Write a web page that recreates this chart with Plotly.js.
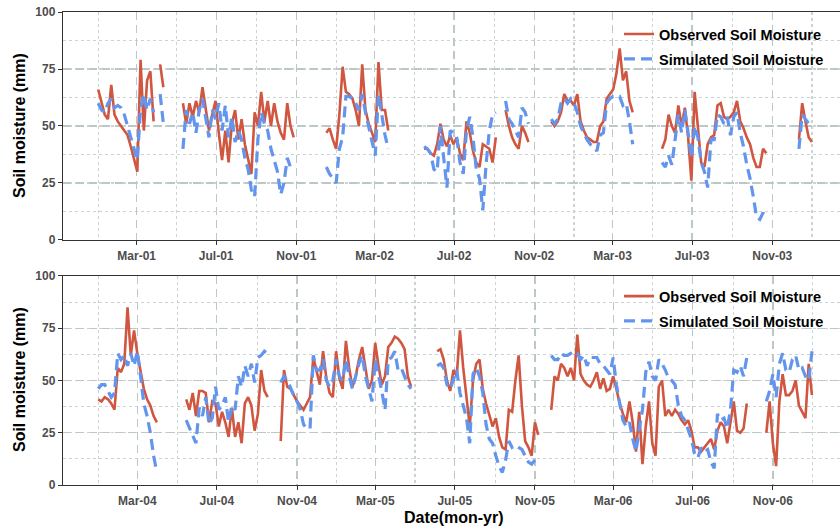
<!DOCTYPE html>
<html><head><meta charset="utf-8">
<script src="https://cdn.plot.ly/plotly-3.0.1.min.js"></script>
<style>html,body{margin:0;padding:0;background:#fff;overflow:hidden}#chart{width:840px;height:529px}</style>
</head><body><div id="chart"></div>
<script>
// Sampling: one reading every 5 days, starting 1 Jan of the panel's first year
const stepDays = 5;
const start1 = '2001-01-01';
const start2 = '2004-01-01';

const observed1 = [66,60,55,53,68,55,52,50,48,46,41,35,30,79,48,70,74,52,null,77,67,
null,null,null,null,null,
60,51,60,54,61,56,67,58,48,55,61,47,35,48,34,51,57,44,53,42,36,29,56,50,65,52,61,50,60,52,47,44,60,50,45,
null,null,null,null,null,null,null,null,null,
47,49,44,40,55,76,65,64,62,57,50,77,57,51,47,43,78,57,57,48,
null,null,null,null,null,null,null,null,null,null,
40,40,38,37,42,51,44,41,46,42,45,38,35,52,47,39,34,32,42,41,40,34,45,
null,null,
57,50,45,42,40,50,47,43,
null,null,null,null,null,null,
52,50,52,56,64,61,61,59,64,52,48,45,44,43,43,50,52,62,64,66,73,84,70,74,61,56,
null,null,null,null,null,null,null,null,
40,44,55,50,47,59,50,58,45,26,65,48,34,32,42,45,46,59,60,54,53,54,56,61,52,49,45,42,36,32,32,40,38,
null,null,null,null,null,null,null,null,null,
44,60,52,45,43];

const simulated1 = [60,57,56,60,62,58,59,58,55,50,46,41,35,58,64,57,62,56,null,64,51,
null,null,null,null,null,
40,57,51,56,47,57,62,54,45,57,53,60,48,59,45,54,43,48,44,36,31,22,19,44,56,51,48,40,35,30,20,25,36,32,null,
null,null,null,null,null,null,null,null,null,
32,29,27,25,40,45,63,63,62,60,57,64,56,50,44,37,64,55,46,40,
null,null,null,null,null,null,null,null,null,null,
41,40,38,31,30,50,36,23,48,47,45,34,29,48,54,45,31,27,13,33,48,55,56,
null,null,
61,53,51,48,45,58,56,51,
null,null,null,null,null,null,
53,51,53,60,62,60,62,60,56,50,47,44,42,41,39,46,47,60,62,63,63,63,59,60,52,42,
null,null,null,null,null,null,null,null,
34,32,37,33,44,55,47,57,47,36,50,45,34,30,23,44,44,55,54,51,54,46,54,56,47,41,33,27,19,10,9,12,9,
null,null,null,null,null,null,null,null,null,
40,55,53,51,50];

const observed2 = [41,40,42,41,39,36,56,54,58,85,62,74,63,54,46,41,38,33,30,
null,null,null,null,null,null,null,null,
41,36,44,33,45,45,44,30,40,39,28,35,30,23,37,23,30,20,39,42,38,26,34,55,45,42,
null,null,null,
21,55,47,46,43,40,38,36,39,42,61,55,48,64,51,44,42,64,51,46,69,56,47,52,60,66,56,46,50,68,57,48,52,66,68,71,70,68,65,52,47,
null,null,null,null,null,null,null,
64,65,60,50,45,55,52,74,56,41,28,50,58,60,46,39,33,28,32,23,18,17,36,35,50,62,38,21,18,14,30,24,
null,null,null,
36,52,50,58,56,52,56,50,72,53,50,48,47,50,54,46,51,45,46,52,46,39,34,30,40,30,16,35,10,28,40,20,14,47,50,33,36,33,36,34,31,29,31,26,18,18,16,18,20,22,17,26,30,28,20,29,40,26,25,27,39,
null,null,null,null,null,
25,40,20,9,40,53,43,43,45,50,38,35,32,58,43];

const simulated2 = [46,48,48,45,42,44,63,60,62,57,63,57,64,52,39,33,25,14,6,
null,null,null,null,null,null,null,null,
31,27,24,20,37,33,42,29,32,47,36,38,42,30,38,36,52,47,57,52,58,49,61,62,64,63,
null,null,null,
49,52,50,46,43,40,36,29,27,27,62,55,55,60,50,47,50,60,52,50,60,52,46,52,58,62,52,46,40,60,53,45,36,60,61,64,55,56,52,48,46,
null,null,null,null,null,null,null,
57,58,56,48,46,50,55,44,38,32,20,53,56,52,44,29,22,20,14,9,6,12,21,18,19,18,17,14,11,10,12,null,
null,null,null,
62,60,60,63,62,62,63,64,63,60,62,57,61,61,61,58,57,55,53,61,48,39,31,28,30,22,16,27,36,54,59,52,50,60,58,55,51,50,48,38,33,31,27,22,15,13,18,16,17,11,8,34,31,32,27,36,55,54,57,52,61,
null,null,null,null,null,
40,45,53,42,58,63,55,54,60,62,55,56,52,50,64];

const seriesNames = ['Observed Soil Moisture', 'Simulated Soil Moisture'];
const yTicks = [0, 25, 50, 75, 100];

function buildDates(start, n) {
  const t0 = Date.parse(start + 'T00:00:00Z');
  const out = [];
  for (let i = 0; i < n; i++) out.push(new Date(t0 + i * stepDays * 86400000).toISOString().slice(0, 10));
  return out;
}
const dates1 = buildDates(start1, observed1.length);
const dates2 = buildDates(start2, observed2.length);

const RED = '#D0563F', BLUE = '#6495ED';
const FAM = 'Liberation Sans, Arial, Helvetica, sans-serif';

function obsTrace(x, y, xa, ya, lg, grp) {
  return {x, y, xaxis: xa, yaxis: ya, type: 'scatter', mode: 'lines', name: seriesNames[0],
    line: {color: RED, width: 2.6}, connectgaps: false, legend: lg, legendgroup: grp, hoverinfo: 'skip'};
}
function simTrace(x, y, xa, ya, lg, grp) {
  return {x, y, xaxis: xa, yaxis: ya, type: 'scatter', mode: 'lines', name: seriesNames[1],
    line: {color: BLUE, width: 3.2, dash: '11px,6px'}, connectgaps: false, legend: lg, legendgroup: grp, hoverinfo: 'skip'};
}

const data = [
  obsTrace(dates1, observed1, 'x', 'y', 'legend', 'o1'),
  simTrace(dates1, simulated1, 'x', 'y', 'legend', 's1'),
  obsTrace(dates2, observed2, 'x2', 'y2', 'legend2', 'o2'),
  simTrace(dates2, simulated2, 'x2', 'y2', 'legend2', 's2')
];

const tickFont = {family: FAM, size: 12, color: '#4d4d4d', weight: 'bold'};
const MAJ = '#bcc8c8', MIN = '#cbd4d4';
function xAxis(range, tick0, minor0, anchor) {
  return {type: 'date', range, tick0, dtick: 'M4', tickformat: '%b-%y', anchor,
    showline: true, linecolor: '#333', linewidth: 1.2, mirror: true,
    ticks: 'outside', ticklen: 4, tickcolor: '#333', tickwidth: 1,
    showgrid: true, gridcolor: MAJ, griddash: '8px,5px', gridwidth: 1.3,
    minor: {dtick: 'M2', tick0: minor0, showgrid: true, gridcolor: MIN, griddash: 'dot', gridwidth: 1.1, ticklen: 0},
    zeroline: false, tickfont: tickFont, fixedrange: true};
}
function yAxis(domain, anchor) {
  return {range: [0, 100], tickvals: yTicks, domain, anchor,
    showline: true, linecolor: '#333', linewidth: 1.2,
    ticks: 'outside', ticklen: 4, tickcolor: '#333',
    showgrid: true, gridcolor: MAJ, griddash: '8px,5px', gridwidth: 1.3,
    minor: {dtick: 12.5, showgrid: true, gridcolor: MIN, griddash: 'dot', gridwidth: 1.1, ticklen: 0},
    zeroline: false, tickfont: tickFont, fixedrange: true};
}
const legFont = {family: FAM, size: 14.5, color: '#000', weight: 'bold'};
function legend(y) {
  return {x: 0.7156, xanchor: 'left', y, yanchor: 'top', bgcolor: 'rgba(0,0,0,0)',
    font: legFont, traceorder: 'grouped', tracegroupgap: 3, itemwidth: 30};
}
const titleFont = {family: FAM, size: 16, color: '#000', weight: 'bold'};

const layout = {
  width: 840, height: 529,
  margin: {l: 63, r: 0, t: 12, b: 44},
  paper_bgcolor: '#fff', plot_bgcolor: '#fff',
  showlegend: true,
  xaxis: xAxis(['2000-11-08', '2004-02-13'], '2001-03-01', '2001-01-01', 'y'),
  yaxis: yAxis([0.518, 1], 'x'),
  xaxis2: xAxis(['2003-11-08', '2007-02-12'], '2004-03-01', '2004-01-01', 'y2'),
  yaxis2: yAxis([0, 0.4419], 'x2'),
  legend: legend(0.987),
  legend2: legend(0.433),
  annotations: [
    {xref: 'paper', yref: 'paper', x: -0.0553, y: 0.759, text: 'Soil moisture (mm)', textangle: -90,
     showarrow: false, xanchor: 'center', yanchor: 'middle', font: titleFont},
    {xref: 'paper', yref: 'paper', x: -0.0553, y: 0.222, text: 'Soil moisture (mm)', textangle: -90,
     showarrow: false, xanchor: 'center', yanchor: 'middle', font: titleFont},
    {xref: 'paper', yref: 'paper', x: 0.503, y: -0.0677, text: 'Date(mon-yr)',
     showarrow: false, xanchor: 'center', yanchor: 'middle', font: titleFont}
  ]
};

Plotly.newPlot('chart', data, layout, {displayModeBar: false, staticPlot: true});
</script>
</body></html>
